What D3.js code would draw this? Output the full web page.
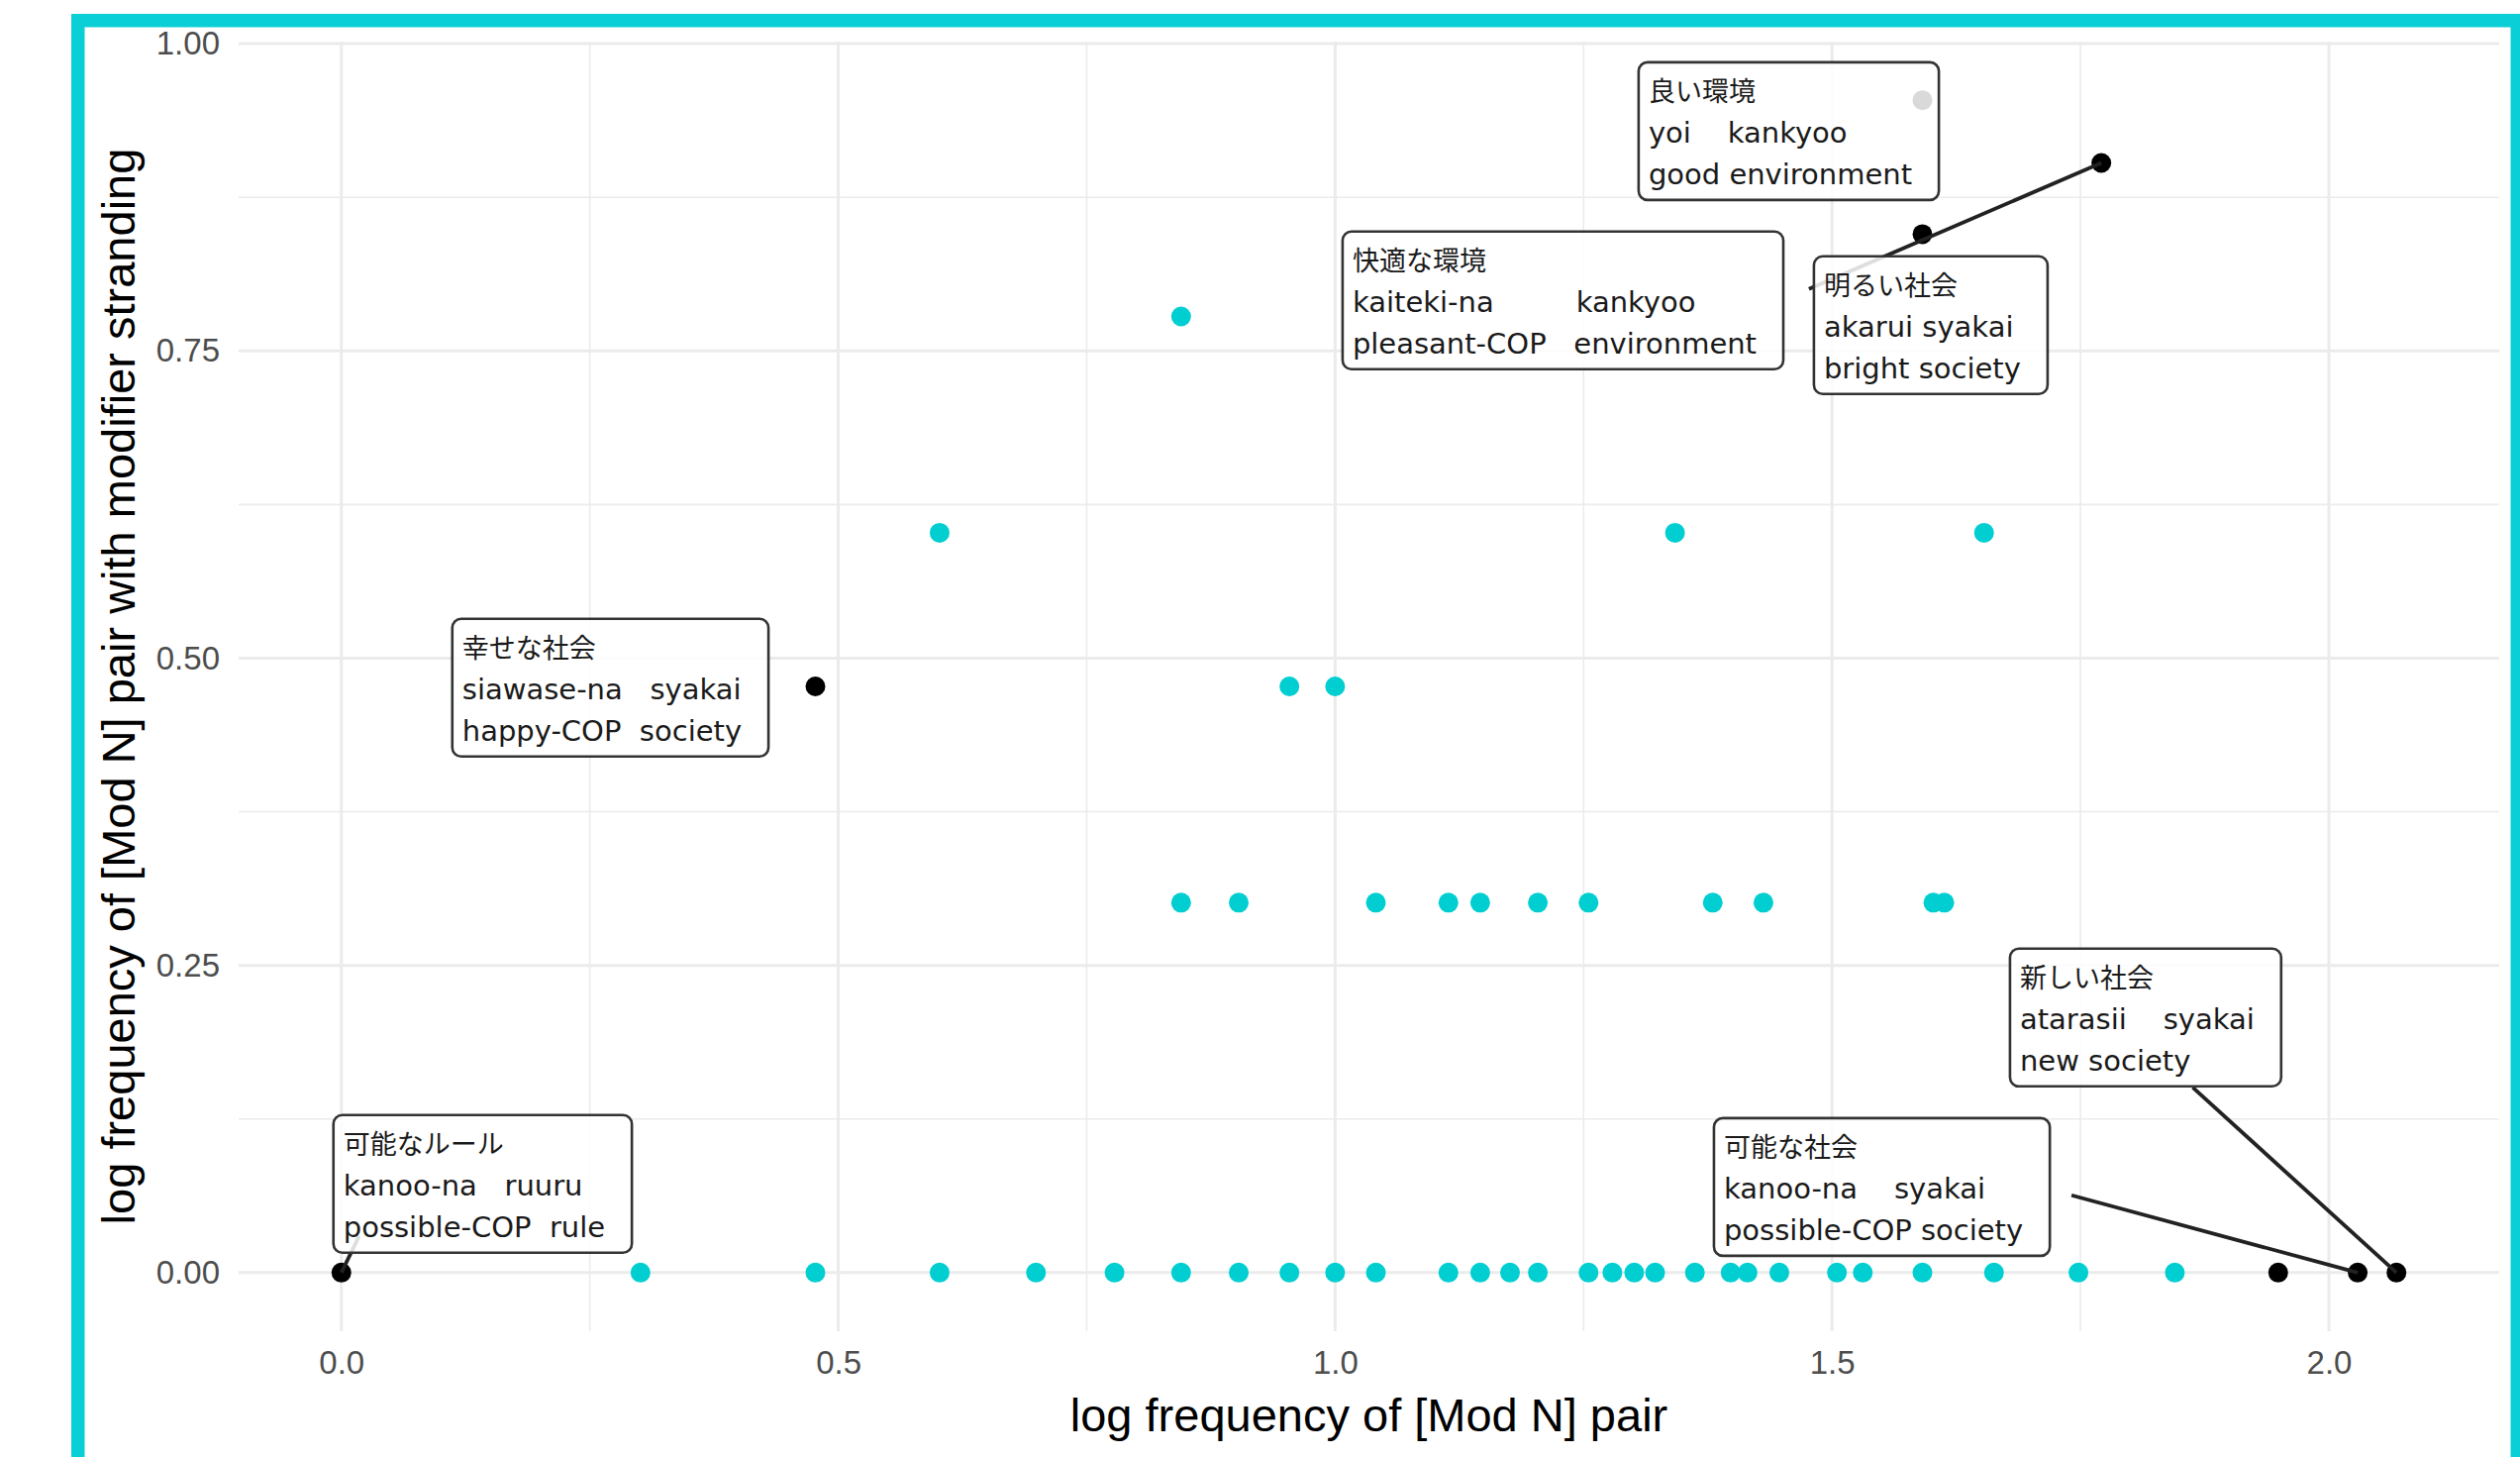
<!DOCTYPE html>
<html>
<head>
<meta charset="utf-8">
<script src="https://cdn.jsdelivr.net/npm/d3@7"></script>
<style>
  html, body { margin: 0; padding: 0; background: #fff; overflow: hidden; }
  svg { display: block; }
  .lbl text { white-space: pre; }
</style>
</head>
<body>
<svg id="chart" width="2545" height="1471"></svg>
<script>
// log10 frequency of each [Mod N] pair (x) and of the same pair with modifier stranding (y)
const otherPairX = [
  0.301, 0.477, 0.602, 0.699, 0.778, 0.845, 0.903, 0.954, 1.000, 1.041,
  1.114, 1.146, 1.176, 1.204, 1.255, 1.279, 1.301, 1.322, 1.362, 1.398,
  1.415, 1.447, 1.505, 1.531, 1.591, 1.663, 1.748, 1.845,
  0.845, 0.903, 1.041, 1.114, 1.146, 1.204, 1.255, 1.380, 1.431, 1.602, 1.613,
  0.954, 1.000,
  0.602, 1.342, 1.653,
  0.845
];
const otherPairY = [
  0, 0, 0, 0, 0, 0, 0, 0, 0, 0,
  0, 0, 0, 0, 0, 0, 0, 0, 0, 0,
  0, 0, 0, 0, 0, 0, 0, 0,
  0.301, 0.301, 0.301, 0.301, 0.301, 0.301, 0.301, 0.301, 0.301, 0.301, 0.301,
  0.477, 0.477,
  0.602, 0.602, 0.602,
  0.778
];

// highlighted pairs (drawn in black)
const keyPairX = [0.000, 0.477, 1.591, 1.591, 1.771, 1.949, 2.029, 2.068];
const keyPairY = [0.000, 0.477, 0.845, 0.954, 0.903, 0.000, 0.000, 0.000];

// glossed labels for the highlighted pairs
const labelJa    = ["良い環境", "快適な環境", "明るい社会", "幸せな社会", "可能なルール", "可能な社会", "新しい社会"];
const labelRoman = ["yoi    kankyoo", "kaiteki-na         kankyoo", "akarui syakai", "siawase-na   syakai",
                    "kanoo-na   ruuru", "kanoo-na    syakai", "atarasii    syakai"];
const labelGloss = ["good environment", "pleasant-COP   environment", "bright society", "happy-COP  society",
                    "possible-COP  rule", "possible-COP society", "new society"];
const labelPointX = [1.591, 1.771, 1.591, 0.477, 0.000, 2.029, 2.068];
const labelPointY = [0.954, 0.903, 0.845, 0.477, 0.000, 0.000, 0.000];

// repelled label placement (top-left corner of each box, data units) and leader start points
const labelLeft   = [1.3054, 1.0075, 1.4818, 0.1116, -0.0080, 1.3812, 1.6791];
const labelTop    = [0.9849, 0.8471, 0.8270, 0.5320, 0.1282, 0.1257, 0.2636];
const leaderFromX = [null, 1.4768, null, null, 0.0179, 1.741, 1.863];
const leaderFromY = [null, 0.8004, null, null, 0.0298, 0.0629, 0.1507];

const xTicks = [0, 0.5, 1.0, 1.5, 2.0];
const yTicks = [0, 0.25, 0.5, 0.75, 1.0];
const xMinor = [0.25, 0.75, 1.25, 1.75];
const yMinor = [0.125, 0.375, 0.625, 0.875];

const xTitle = "log frequency of [Mod N] pair";
const yTitle = "log frequency of [Mod N] pair with modifier stranding";

// ---- layout ----
const panel = { left: 241, right: 2524, top: 42, bottom: 1344 };
const CYAN = "#00CED1";
const axisFont = "'Liberation Sans', Arial, Helvetica, sans-serif";
const labelFont = "'DejaVu Sans', 'Noto Sans CJK JP', sans-serif";

const svg = d3.select("#chart");

// slide frame
svg.append("rect")
  .attr("x", 78.75).attr("y", 20.75)
  .attr("width", 2463.5).attr("height", 1500)
  .attr("fill", "none")
  .attr("stroke", "#0BCFD7")
  .attr("stroke-width", 13.5);

// scales with 5% expansion around the data
const allX = otherPairX.concat(keyPairX);
const allY = otherPairY.concat(keyPairY);
const [x0, x1] = d3.extent(allX);
const [y0, y1] = d3.extent(allY);
const ex = (x1 - x0) * 0.05, ey = (y1 - y0) * 0.05;
const x = d3.scaleLinear().domain([x0 - ex, x1 + ex]).range([panel.left, panel.right]);
const y = d3.scaleLinear().domain([y0 - ey, y1 + ey]).range([panel.bottom, panel.top]);

// grid
const grid = svg.append("g").attr("stroke", "#EBEBEB");
grid.selectAll("line.vmin").data(xMinor).join("line")
  .attr("x1", d => x(d)).attr("x2", d => x(d))
  .attr("y1", panel.top).attr("y2", panel.bottom).attr("stroke-width", 1.6);
grid.selectAll("line.hmin").data(yMinor).join("line")
  .attr("y1", d => y(d)).attr("y2", d => y(d))
  .attr("x1", panel.left).attr("x2", panel.right).attr("stroke-width", 1.6);
grid.selectAll("line.vmaj").data(xTicks).join("line")
  .attr("x1", d => x(d)).attr("x2", d => x(d))
  .attr("y1", panel.top).attr("y2", panel.bottom).attr("stroke-width", 3);
grid.selectAll("line.hmaj").data(yTicks).join("line")
  .attr("y1", d => y(d)).attr("y2", d => y(d))
  .attr("x1", panel.left).attr("x2", panel.right).attr("stroke-width", 3);

// axes
const xAxis = svg.append("g")
  .attr("transform", `translate(0,${panel.bottom})`)
  .call(d3.axisBottom(x).tickValues(xTicks).tickFormat(d3.format(".1f")).tickSize(0).tickPadding(20));
const yAxis = svg.append("g")
  .attr("transform", `translate(${panel.left},0)`)
  .call(d3.axisLeft(y).tickValues(yTicks).tickFormat(d3.format(".2f")).tickSize(0).tickPadding(19));
[xAxis, yAxis].forEach(g => {
  g.select(".domain").remove();
  g.selectAll("text")
    .attr("fill", "#4D4D4D")
    .style("font-family", axisFont)
    .style("font-size", "33px");
});

svg.append("text")
  .attr("x", (panel.left + panel.right) / 2).attr("y", 1445)
  .attr("text-anchor", "middle")
  .style("font-family", axisFont).style("font-size", "47px")
  .attr("fill", "#000")
  .text(xTitle);

svg.append("text")
  .attr("transform", `translate(136,${(panel.top + panel.bottom) / 2}) rotate(-90)`)
  .attr("text-anchor", "middle")
  .style("font-family", axisFont).style("font-size", "47px")
  .attr("fill", "#000")
  .text(yTitle);

// points
svg.append("g").selectAll("circle")
  .data(d3.range(otherPairX.length)).join("circle")
  .attr("cx", i => x(otherPairX[i])).attr("cy", i => y(otherPairY[i]))
  .attr("r", 10).attr("fill", CYAN);
svg.append("g").selectAll("circle")
  .data(d3.range(keyPairX.length)).join("circle")
  .attr("cx", i => x(keyPairX[i])).attr("cy", i => y(keyPairY[i]))
  .attr("r", 10).attr("fill", "#000");

// leader lines
const labelIdx = d3.range(labelJa.length);
svg.append("g").selectAll("line")
  .data(labelIdx.filter(i => leaderFromX[i] !== null)).join("line")
  .attr("x1", i => x(leaderFromX[i])).attr("y1", i => y(leaderFromY[i]))
  .attr("x2", i => x(labelPointX[i])).attr("y2", i => y(labelPointY[i]))
  .attr("stroke", "#222").attr("stroke-width", 3.8);

// label boxes
const lbl = svg.append("g").attr("class", "lbl")
  .selectAll("g").data(labelIdx).join("g")
  .attr("transform", i => `translate(${x(labelLeft[i])},${y(labelTop[i])})`);

const box = lbl.append("rect")
  .attr("rx", 9).attr("ry", 9)
  .attr("height", 139)
  .attr("fill", "#fff").attr("fill-opacity", 0.85)
  .attr("stroke", "#333").attr("stroke-width", 2.6);

const lines = [
  { arr: labelJa, dy: 39, size: 27 },
  { arr: labelRoman, dy: 81, size: 29 },
  { arr: labelGloss, dy: 123, size: 29 }
];
lines.forEach(L => {
  lbl.append("text")
    .attr("x", 10).attr("y", L.dy)
    .attr("fill", "#1A1A1A")
    .style("font-family", labelFont)
    .style("font-size", L.size + "px")
    .text(i => L.arr[i]);
});

box.attr("width", function (i) {
  const g = d3.select(this.parentNode);
  let w = 0;
  g.selectAll("text").each(function () { w = Math.max(w, this.getComputedTextLength()); });
  return w + 37;
});
</script>
</body>
</html>
